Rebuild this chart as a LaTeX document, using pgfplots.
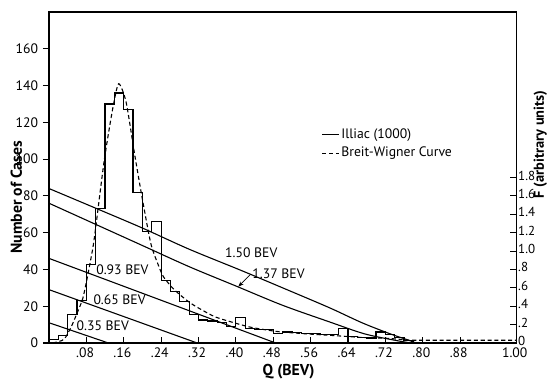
\documentclass[border=0pt]{standalone}
\usepackage{pgfplots}
\pgfplotsset{compat=1.18}
\usepackage{fontspec}
\setmainfont{PT Sans}
\usetikzlibrary{arrows.meta}

\newcommand{\tickfont}{\fontsize{10}{12}\selectfont}
\newcommand{\labfont}{\fontsize{11.5}{13}\selectfont\bfseries}

\begin{document}
\begin{tikzpicture}
% counts (left scale)
\begin{axis}[
  name=main,
  scale only axis, width=341pt, height=241.6pt,
  xmin=0, xmax=1, ymin=0, ymax=180,
  axis line style={line width=0.9pt},
  xtick={0.08,0.16,0.24,0.32,0.40,0.48,0.56,0.64,0.72,0.80,0.88,1.00},
  xticklabels={.08,.16,.24,.32,.40,.48,.56,.64,.72,.80,.88,1.00},
  ytick={0,20,40,60,80,100,120,140,160},
  yticklabels={0,20,40,60,80,100,120,140,160},
  xtick pos=left, ytick pos=left,
  xtick align=inside, ytick align=outside,
  major tick length=4.5pt,
  tick style={line width=0.8pt, black},
  tick label style={font=\tickfont},
  xticklabel style={xshift=-1pt},
  xlabel={Q (BEV)},
  xlabel style={font=\labfont, at={(axis description cs:0.513,-0.085)}, anchor=center},
  ylabel={Number of Cases},
  ylabel style={font=\labfont, at={(axis description cs:-0.07,0.44)}, anchor=center},
  legend style={at={(0.583,0.655)}, anchor=north west, draw=none, fill=none,
    font=\tickfont, row sep=2pt, inner sep=0pt, nodes={inner sep=1.5pt}},
  legend cell align=left,
  legend image code/.code={\draw[#1] (0pt,0pt) -- (12pt,0pt);},
]
% histogram, 0.02 BEV bins
\addplot[const plot, black, line width=0.9pt] coordinates {
  (0.00,2) (0.02,4) (0.04,15.5) (0.06,23) (0.08,42.5) (0.10,73)
  (0.12,130) (0.14,136) (0.16,127) (0.18,82) (0.20,60.5) (0.22,66)
  (0.24,34) (0.26,28) (0.28,22.5) (0.30,15.5) (0.32,12.5) (0.34,12)
  (0.36,11) (0.38,9) (0.40,14) (0.42,8) (0.44,7.5) (0.46,7.5)
  (0.48,5) (0.50,6) (0.52,5.5) (0.54,5) (0.56,5) (0.58,4.5)
  (0.60,4.5) (0.62,8) (0.64,3.5) (0.66,3) (0.68,2.7) (0.70,6)
  (0.72,4.5) (0.74,3) (0.76,1.5) (0.78,0)
};
\addlegendentry{Illiac (1000)}
% Breit-Wigner fit
\addplot[black, line width=0.8pt, dash pattern=on 3pt off 2pt, smooth, tension=0.4] coordinates {
  (0.008,0) (0.021,0.8) (0.033,2.2) (0.047,8.5) (0.058,15) (0.072,24)
  (0.083,37) (0.094,52) (0.100,63) (0.118,99) (0.136,127) (0.149,141)
  (0.165,131) (0.183,103) (0.200,78) (0.218,54) (0.233,43) (0.245,36)
  (0.268,29) (0.304,21.5) (0.353,14.5) (0.396,11) (0.433,8.5) (0.49,6.2)
  (0.56,4.8) (0.60,4.2) (0.67,3) (0.72,2.6) (0.76,1.8) (0.78,1.5) (1.00,1.5)
};
\addlegendentry{Breit-Wigner Curve}
% F curves for the different energies
\addplot[forget plot, black, line width=0.8pt, smooth] coordinates {
  (0,84) (0.1,73.3) (0.2,62.5) (0.3,51) (0.41,39.6) (0.5,30) (0.6,19.2) (0.67,11) (0.73,5) (0.77,1.5) (0.785,0)
};
\addplot[forget plot, black, line width=0.8pt, smooth] coordinates {
  (0,76) (0.1,64.5) (0.2,53) (0.3,41.5) (0.4,31) (0.5,20.5) (0.6,11.5) (0.675,5) (0.74,1.5) (0.775,0)
};
\addplot[forget plot, black, line width=0.8pt] coordinates {(0,46) (0.485,0)};
\addplot[forget plot, black, line width=0.8pt] coordinates {(0,29) (0.317,0)};
\addplot[forget plot, black, line width=0.8pt] coordinates {(0,11) (0.127,0)};

\node[font=\tickfont] at (axis cs:0.115,9.3) {0.35 BEV};
\node[font=\tickfont] at (axis cs:0.151,23.5) {0.65 BEV};
\node[font=\tickfont] at (axis cs:0.157,40) {0.93 BEV};
\node[font=\tickfont] at (axis cs:0.433,49) {1.50 BEV};
\draw[line width=0.6pt, -{Stealth[length=4pt,width=3pt]}] (axis cs:0.432,37.5) -- (axis cs:0.405,30.6);
\node[font=\tickfont, anchor=west, inner sep=1pt] at (axis cs:0.432,37.5) {1.37 BEV};
\end{axis}
% F (right scale)
\begin{axis}[
  scale only axis, width=341pt, height=241.6pt,
  xmin=0, xmax=1, ymin=0, ymax=3.6,
  axis x line=none, axis y line*=right,
  y axis line style={-, line width=0.9pt},
  ytick={0,0.2,0.4,0.6,0.8,1.0,1.2,1.4,1.6,1.8},
  yticklabels={0,.2,.4,.6,.8,1.0,1.2,1.4,1.6,1.8},
  ytick align=inside,
  major tick length=4.5pt,
  tick style={line width=0.8pt, black},
  tick label style={font=\fontsize{9.5}{11}\selectfont},
  yticklabel style={yshift=1.5pt, xshift=-2pt},
  ylabel={F (arbitrary units)},
  ylabel style={font=\fontsize{10.5}{12}\selectfont\bfseries, at={(axis description cs:1.052,0.6)}, anchor=center},
]
\end{axis}
\pgfresetboundingbox
\path ([xshift=-35.8pt,yshift=-26.3pt]main.south west) rectangle ([xshift=24pt,yshift=8.8pt]main.north east);
\end{tikzpicture}
\end{document}
